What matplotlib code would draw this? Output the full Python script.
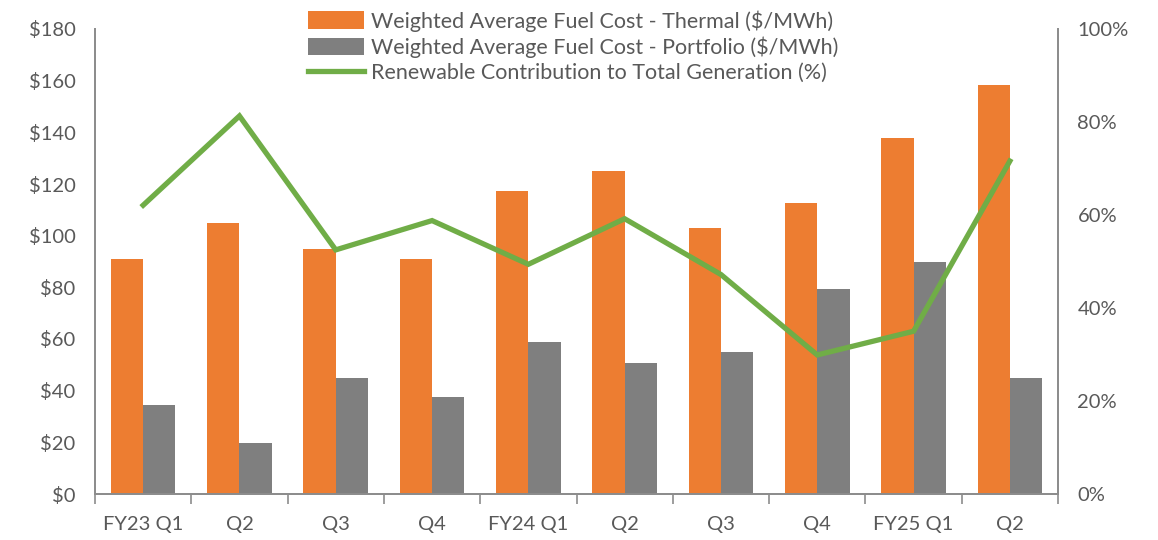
import matplotlib
matplotlib.use("Agg")
import matplotlib.pyplot as plt
import numpy as np
from matplotlib.ticker import FuncFormatter, FixedLocator

categories = ["FY23 Q1", "Q2", "Q3", "Q4", "FY24 Q1", "Q2", "Q3", "Q4", "FY25 Q1", "Q2"]
thermal = [91, 105, 95, 91, 117.3, 125, 103, 112.8, 138, 158.3]
portfolio = [34.3, 19.6, 44.9, 37.5, 59, 50.9, 55, 79.2, 89.8, 44.9]
renewable = [62.1, 81.3, 52.5, 58.8, 49.4, 59.2, 47.2, 29.9, 35.0, 71.6]

label_thermal = "Weighted Average Fuel Cost - Thermal ($/MWh)"
label_portfolio = "Weighted Average Fuel Cost - Portfolio ($/MWh)"
label_renew = "Renewable Contribution to Total Generation (%)"

ORANGE = "#ED7D31"
GRAY = "#7F7F7F"
GREEN = "#70AD47"
TXT = "#595959"
AX = "#8C8C8C"

plt.rcParams['font.family'] = ['Lato', 'DejaVu Sans']

fig = plt.figure(figsize=(11.58, 5.40), dpi=100)
ax = fig.add_axes([95/1158, 46/540, (1058-95)/1158, (494-29)/540])
ax2 = ax.twinx()

x = np.arange(len(categories))
w = 0.335
b1 = ax.bar(x - w/2, thermal, w, color=ORANGE, label=label_thermal, zorder=2)
b2 = ax.bar(x + w/2, portfolio, w, color=GRAY, label=label_portfolio, zorder=2)
ln, = ax2.plot(x, renewable, color=GREEN, lw=3.8, label=label_renew, solid_joinstyle='miter', zorder=3)

ax.set_xlim(-0.5, len(categories) - 0.5)
ax.set_ylim(0, 180)
ax2.set_ylim(0, 100)
ax.set_yticks(np.arange(0, 181, 20))
ax2.set_yticks(np.arange(0, 101, 20))
ax.yaxis.set_major_formatter(FuncFormatter(lambda v, p: f"${int(v)}"))
ax2.yaxis.set_major_formatter(FuncFormatter(lambda v, p: f"{int(v)}%"))

ax.set_xticks(x)
ax.set_xticklabels(categories)
ax.xaxis.set_minor_locator(FixedLocator(np.arange(-0.5, len(categories), 1.0)))
ax.tick_params(axis='x', which='major', length=0, pad=16, labelsize=14.5, labelcolor=TXT)
ax.tick_params(axis='x', which='minor', length=7, width=1.2, color=AX, direction='out')
ax.tick_params(axis='y', length=0, pad=14, labelsize=14.5, labelcolor=TXT)
ax2.tick_params(axis='y', length=0, pad=14, labelsize=14.5, labelcolor=TXT)

for a in (ax, ax2):
    a.spines['top'].set_visible(False)
    for s in ('left', 'right', 'bottom'):
        a.spines[s].set_color(AX)
        a.spines[s].set_linewidth(1.3)

leg = fig.legend(handles=[b1, b2, ln], loc='upper left', bbox_to_anchor=(289/1158, 1.017),
                 frameon=False, fontsize=15.5, labelcolor=TXT, handlelength=2.6,
                 handleheight=0.9, handletextpad=0.3, labelspacing=0.22)

fig.savefig("out.png", dpi=100)
